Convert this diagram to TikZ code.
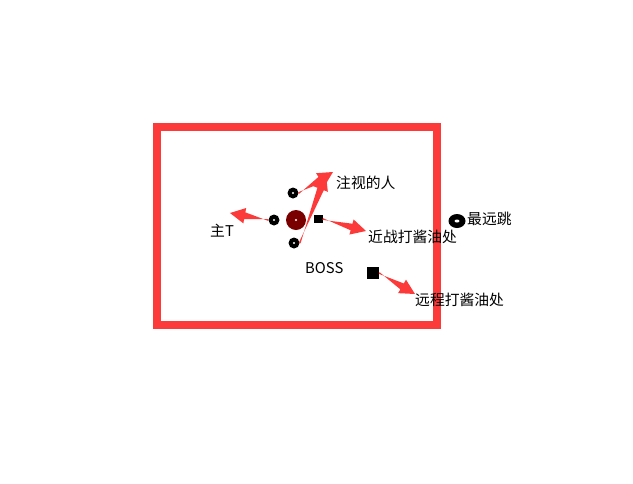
\documentclass[tikz,border=0pt]{standalone}
\usepackage{fontspec}
\newfontfamily\cjk{Noto Sans CJK SC}
\usepackage{tikz}
\usetikzlibrary{positioning, calc, shapes.geometric}
\definecolor{markred}{RGB}{252, 58, 58}
\definecolor{bossred}{RGB}{122, 0, 0}

% tapered fat arrow from #1 to #2
\newcommand\tarrow[2]{%
  \coordinate (tbase) at ($(#2)!15pt!(#1)$);
  \fill[markred] ($(#1)!0.9pt!90:(#2)$) -- ($(tbase)!3.4pt!-90:(#2)$)
    -- ($(tbase)!7.8pt!-90:(#2)$) -- (#2) -- ($(tbase)!7.8pt!90:(#2)$)
    -- ($(tbase)!3.4pt!90:(#2)$) -- ($(#1)!0.9pt!-90:(#2)$) -- cycle;}

\begin{document}
\begin{tikzpicture}[x=1pt, y=-1pt,
    font=\cjk\fontsize{14.8}{16}\selectfont,
    ring/.style={circle, fill=black, minimum size=11pt, inner sep=0pt},
    spot/.style={fill=black, inner sep=0pt},
    lbl/.style={anchor=west, inner sep=0pt}]
  \useasboundingbox (0,0) rectangle (633,483);

  % arena
  \draw[markred, line width=7.5pt] (157,127) rectangle (437,325);

  % boss and the people round it
  \node[circle, fill=bossred, minimum size=20pt, inner sep=0pt] (boss) at (296,220) {};
  \node[ring] (tp) at (293,193) {};
  \node[ring] (lt) at (274,220) {};
  \node[ring] (bt) at (294,243) {};
  \node[ellipse, fill=black, minimum width=17pt, minimum height=14pt, inner sep=0pt] (far) at (457,221) {};
  \node[spot, minimum width=9pt, minimum height=8pt] (melee) at (318,219) {};
  \node[spot, minimum size=12pt] (ranged) at (373,273) {};
  \foreach \n in {boss, tp, lt, bt} \fill[white] (\n) circle (1.2pt);
  \fill[white] (far) ellipse (2.5pt and 1.5pt);

  % free ends of the arrows
  \coordinate (ztip) at (230,213);
  \coordinate (gtip) at (333,172);
  \coordinate (btip) at (326,175);
  \coordinate (mtip) at (366,231);
  \coordinate (rtip) at (415,294);

  \tarrow{lt.west}{ztip}
  \tarrow{tp.east}{gtip}
  \tarrow{bt.east}{btip}
  \tarrow{melee.east}{mtip}
  \tarrow{ranged.east}{rtip}

  \node[lbl] (gaze)   at (336,183) {注视的人};
  \node[lbl] (mt)     at (210,231) {主T};
  \node[lbl] (mlbl)   at (368,237) {近战打酱油处};
  \node[lbl] (blbl)   at (305,268) {BOSS};
  \node[lbl] (flbl)   at (467,219) {最远跳};
  \node[lbl] (rlbl)   at (415,300) {远程打酱油处};
\end{tikzpicture}
\end{document}
